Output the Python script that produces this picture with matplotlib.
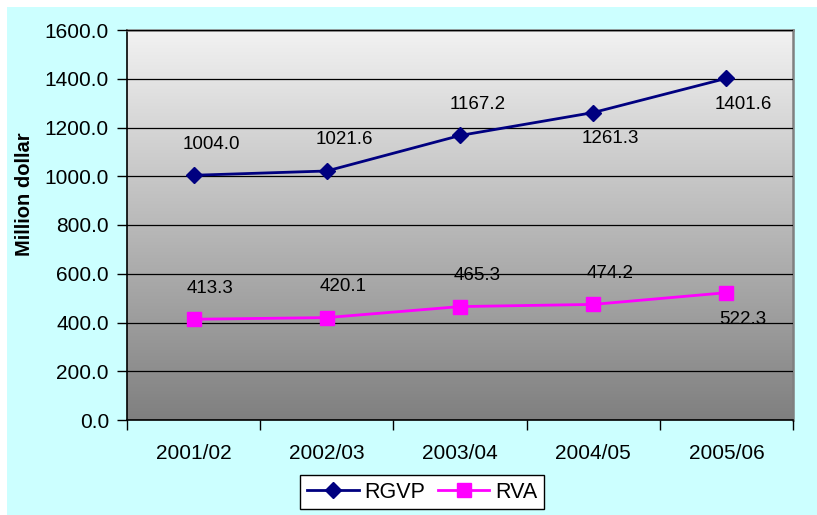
import matplotlib
matplotlib.use("Agg")
import matplotlib.pyplot as plt
import numpy as np
from matplotlib.patches import Rectangle
from matplotlib.lines import Line2D

plt.rcParams['font.family'] = ['Liberation Sans', 'DejaVu Sans']

categories = ["2001/02", "2002/03", "2003/04", "2004/05", "2005/06"]
rgvp = [1004.0, 1021.6, 1167.2, 1261.3, 1401.6]
rva = [413.3, 420.1, 465.3, 474.2, 522.3]
rgvp_label_pos = ["above", "above", "above", "below", "below"]
rva_label_pos = ["above", "above", "above", "above", "below"]
yticks = [0, 200, 400, 600, 800, 1000, 1200, 1400, 1600]

W, H = 817, 515
fig = plt.figure(figsize=(W / 100, H / 100), dpi=100)
fig.patch.set_facecolor("white")
bg = Rectangle((7 / W, 0), 1 - 7 / W, 1 - 7 / H, transform=fig.transFigure,
               facecolor="#CCFFFF", edgecolor="none", zorder=-100)
fig.add_artist(bg)

ax = fig.add_axes([127 / W, 1 - 420 / H, (793 - 127) / W, (420 - 30) / H], zorder=1)
ax.set_facecolor("none")
n = len(categories)
x = np.arange(n)

# gradient background
grad = np.linspace(0, 1, 256).reshape(-1, 1)
top = np.array([0.95, 0.95, 0.95])
bot = np.array([0.50, 0.50, 0.50])
img = top[None, None, :] * (1 - grad[:, :, None]) + bot[None, None, :] * grad[:, :, None]
ax.imshow(img, extent=(-0.5, n - 0.5, 0, 1600), aspect="auto", zorder=0, origin="upper")
ax.set_xlim(-0.5, n - 0.5)
ax.set_ylim(0, 1600)

ax.set_yticks(yticks)
ax.set_yticklabels([f"{v:.1f}" for v in yticks], fontsize=15)
ax.yaxis.grid(True, color="black", linewidth=0.9, zorder=1)
ax.set_axisbelow(False)

ax.set_xticks(np.arange(n + 1) - 0.5)
ax.set_xticklabels([])
ax.set_xticks(x, minor=True)
ax.set_xticklabels(categories, minor=True, fontsize=15)
ax.tick_params(axis="x", which="major", length=7, width=1, color="black")
ax.tick_params(axis="x", which="minor", length=0, pad=17)
ax.tick_params(axis="y", length=7, width=1, pad=6)

for s in ["left", "bottom"]:
    ax.spines[s].set_color("black")
    ax.spines[s].set_linewidth(1.2)
for s in ["top", "right"]:
    ax.spines[s].set_color("#808080")
    ax.spines[s].set_linewidth(1.8)

ax.plot(x, rgvp, color="#000080", linewidth=2, marker="D", markersize=8,
        markerfacecolor="#000080", markeredgecolor="#000080", zorder=3)
ax.plot(x, rva, color="#FF00FF", linewidth=2, marker="s", markersize=10,
        markerfacecolor="#FF00FF", markeredgecolor="#FF00FF", zorder=3)

for xi, v, p in zip(x, rgvp, rgvp_label_pos):
    dy = 22.5 if p == "above" else -19
    ax.annotate(f"{v:.1f}", (xi, v), xytext=(12.5, dy), textcoords="offset points",
                ha="center", va="center", fontsize=13.5, zorder=4)
for xi, v, p in zip(x, rva, rva_label_pos):
    dy = 22.5 if p == "above" else -19
    ax.annotate(f"{v:.1f}", (xi, v), xytext=(12, dy), textcoords="offset points",
                ha="center", va="center", fontsize=13.5, zorder=4)

ax.set_ylabel("Million dollar", fontsize=14.5, fontweight="bold")
ax.yaxis.set_label_coords(-0.14, 0.58)

handles = [
    Line2D([], [], color="#000080", linewidth=2, marker="D", markersize=8),
    Line2D([], [], color="#FF00FF", linewidth=2, marker="s", markersize=10),
]
leg = fig.legend(handles, ["RGVP", "RVA"], loc="center", bbox_to_anchor=(422 / W, 1 - 492 / H),
                 ncol=2, fontsize=15.5, frameon=True, fancybox=False, edgecolor="black",
                 handlelength=2.4, columnspacing=0.6, handletextpad=0.25, borderpad=0.3,
                 borderaxespad=0)
leg.get_frame().set_linewidth(1.0)
leg.get_frame().set_facecolor("white")
leg.get_frame().set_alpha(1)

fig.savefig("out.png", dpi=100, facecolor=fig.get_facecolor())
